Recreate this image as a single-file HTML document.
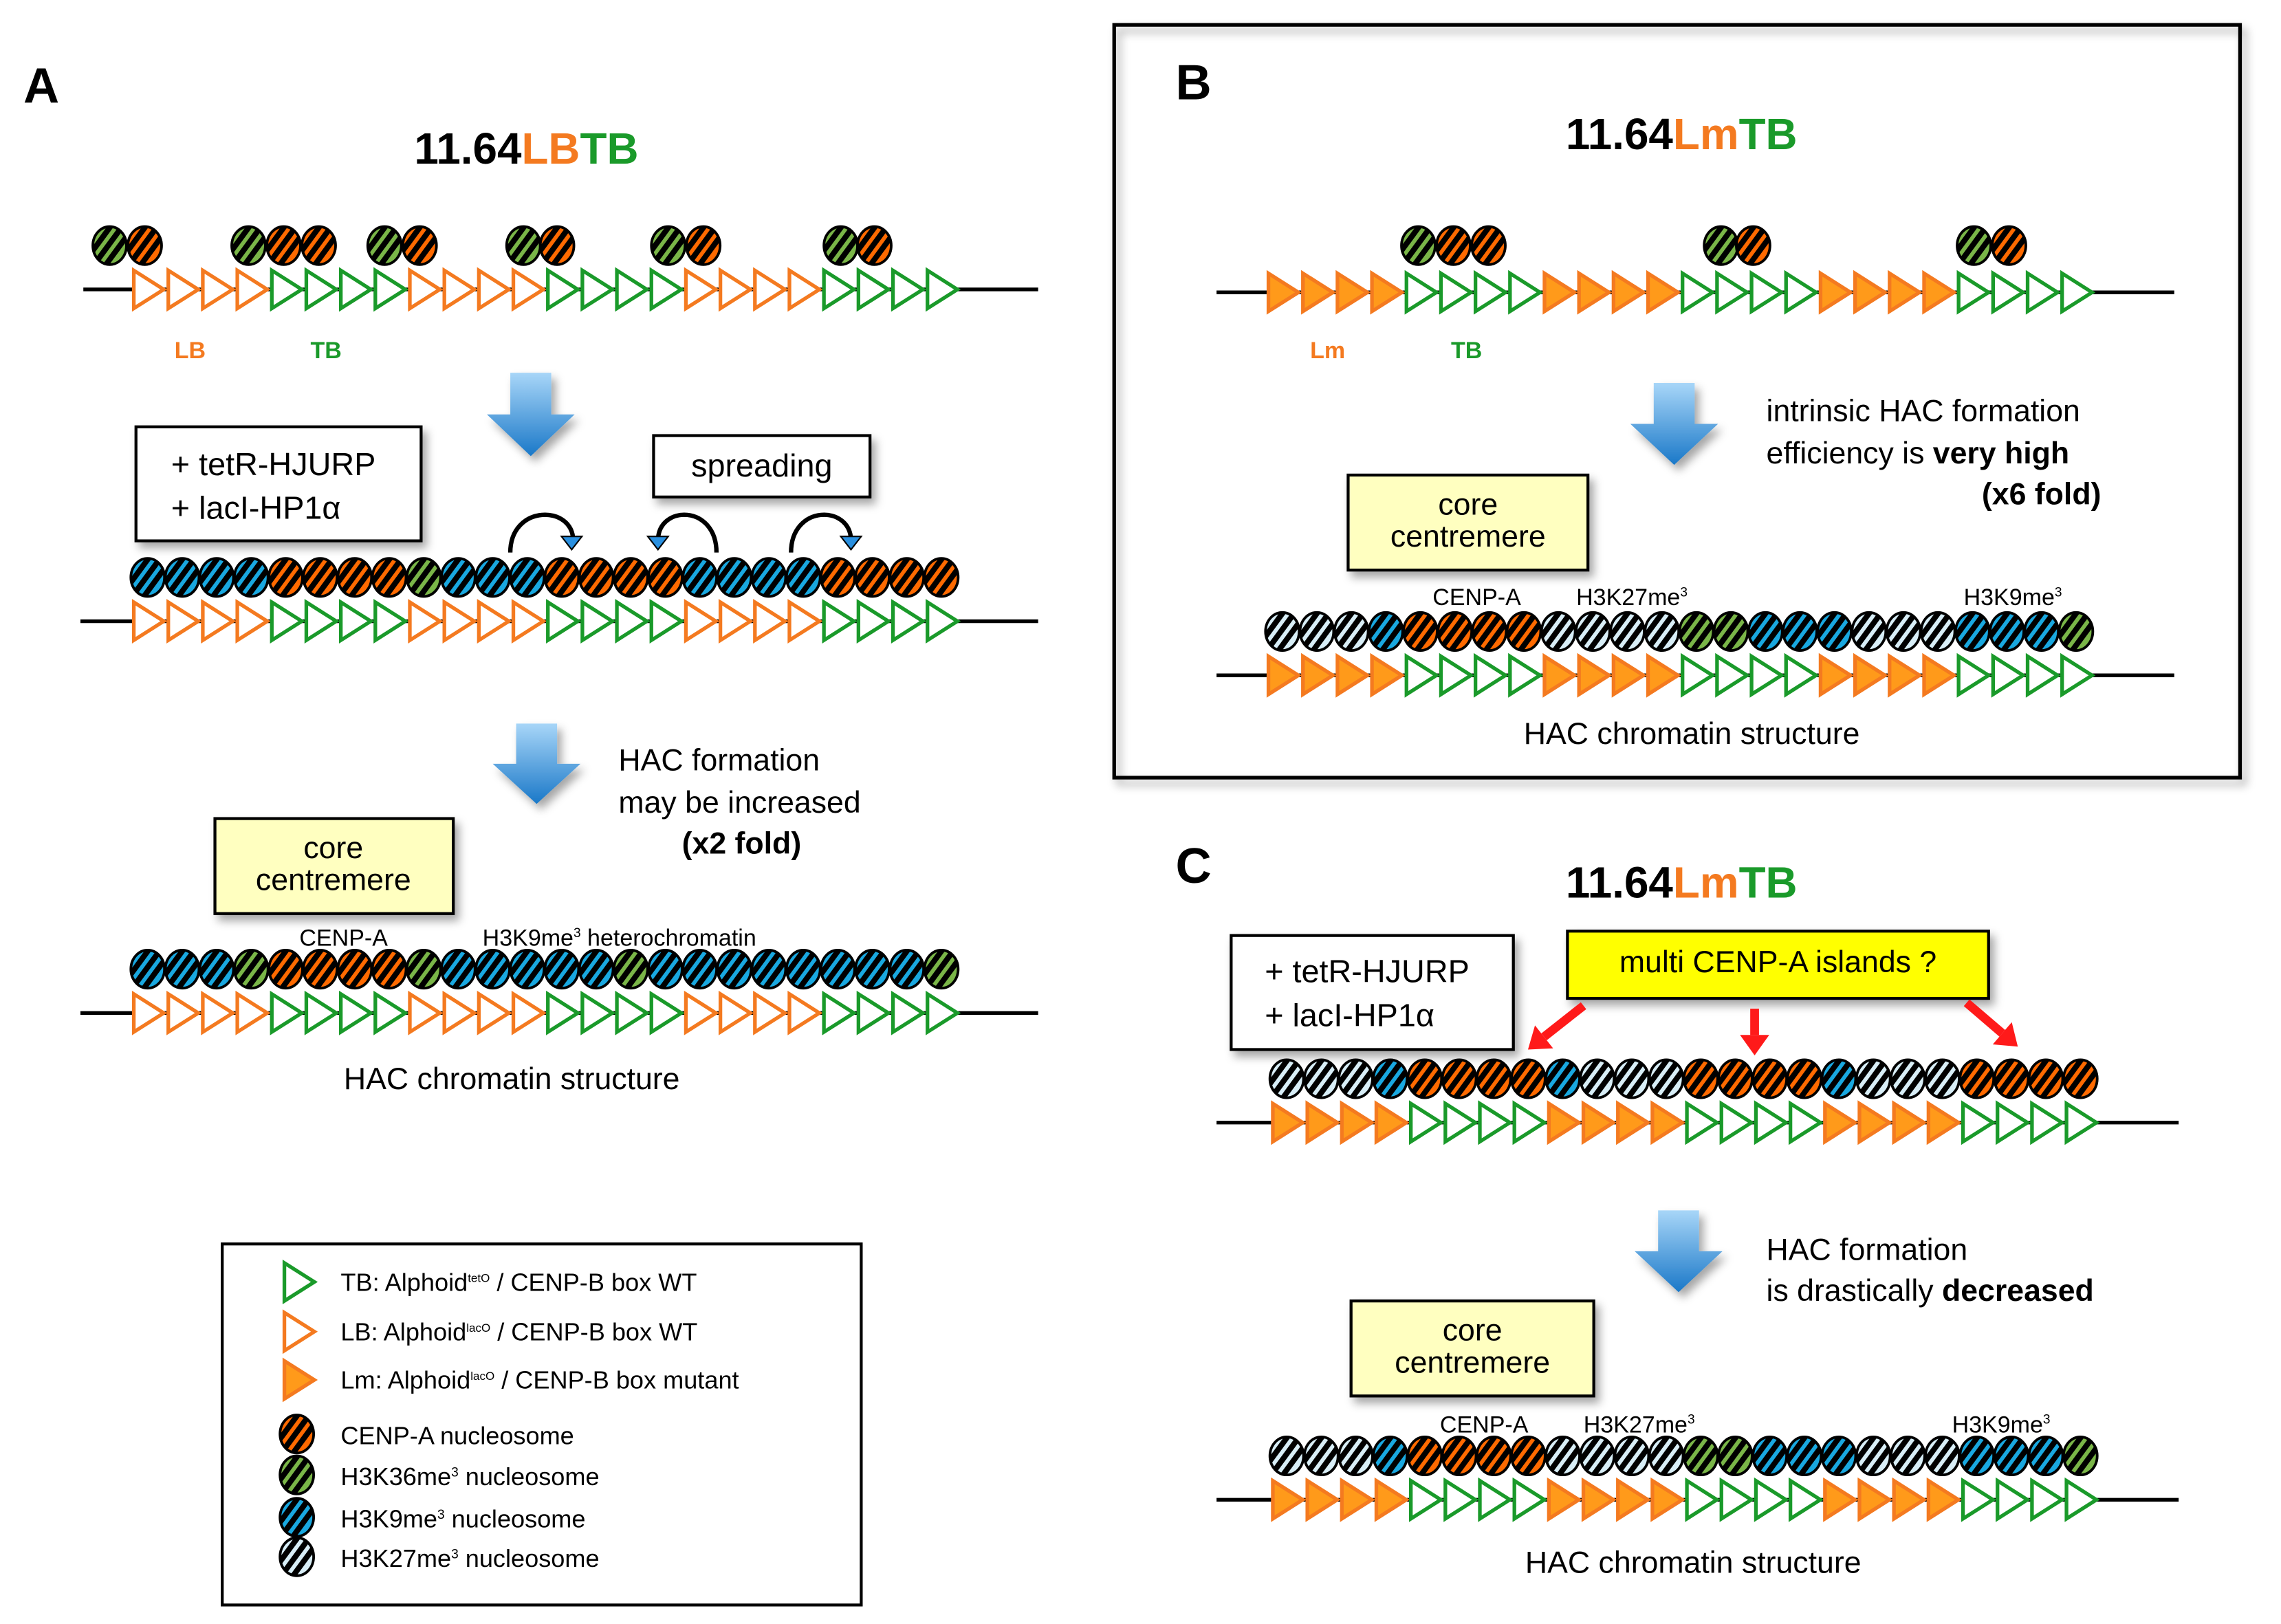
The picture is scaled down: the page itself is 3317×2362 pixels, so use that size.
<!DOCTYPE html>
<html><head><meta charset="utf-8"><style>
html,body{margin:0;padding:0;background:#fff}
svg{display:block}
text{font-family:"Liberation Sans",sans-serif}
</style></head><body>
<svg id="s" width="3317" height="2362" viewBox="0 0 1560 1111" preserveAspectRatio="none" xmlns="http://www.w3.org/2000/svg">
<defs>
<linearGradient id="ag" x1="0" y1="0" x2="0" y2="1"><stop offset="0" stop-color="#a8d6f8"/><stop offset="1" stop-color="#1a78c8"/></linearGradient>
<clipPath id="ec"><ellipse cx="0" cy="0" rx="11.5" ry="13"/></clipPath>
<filter id="sh" x="-10%" y="-10%" width="130%" height="140%"><feDropShadow dx="3" dy="4" stdDeviation="3" flood-color="#000" flood-opacity="0.35"/></filter>
</defs>

<!-- Panel A -->
<text x="16" y="70" font-size="34" font-weight="bold">A</text>
<text x="360" y="112" font-size="30" font-weight="bold" text-anchor="middle">11.64<tspan fill="#f47a20">LB</tspan><tspan fill="#1a9a2a">TB</tspan></text>
<text x="130" y="245" font-size="16" font-weight="bold" fill="#f47a20" text-anchor="middle">LB</text>
<text x="223" y="245" font-size="16" font-weight="bold" fill="#1a9a2a" text-anchor="middle">TB</text>
<rect x="93" y="292" width="195" height="78" fill="#fff" stroke="#000" stroke-width="2" filter="url(#sh)"/>
<text x="117" y="325" font-size="22">+ tetR-HJURP</text>
<text x="117" y="355" font-size="22">+ lacI-HP1α</text>
<rect x="447" y="298" width="148" height="42" fill="#fff" stroke="#000" stroke-width="2" filter="url(#sh)"/>
<text x="521" y="326" font-size="22" text-anchor="middle">spreading</text>
<text x="423" y="527" font-size="21">HAC formation</text>
<text x="423" y="556" font-size="21">may be increased</text>
<text x="548" y="584" font-size="21" font-weight="bold" text-anchor="end">(x2 fold)</text>
<rect x="147" y="560" width="163" height="65" fill="#ffffc0" stroke="#000" stroke-width="2" filter="url(#sh)"/>
<text x="228" y="587" font-size="21" text-anchor="middle">core</text>
<text x="228" y="609" font-size="21" text-anchor="middle">centremere</text>
<text x="235" y="647" font-size="16" text-anchor="middle">CENP-A</text>
<text x="330" y="647" font-size="16">H3K9me<tspan font-size="9" dy="-6">3</tspan><tspan dy="6"> heterochromatin</tspan></text>
<text x="350" y="745" font-size="21" text-anchor="middle">HAC chromatin structure</text>

<!-- Legend -->
<rect x="152" y="851" width="437" height="247" fill="none" stroke="#000" stroke-width="2"/>
<text x="233" y="883" font-size="17">TB: Alphoid<tspan font-size="8" dy="-6">tetO</tspan><tspan dy="6"> / CENP-B box WT</tspan></text>
<text x="233" y="917" font-size="17">LB: Alphoid<tspan font-size="8" dy="-6">lacO</tspan><tspan dy="6"> / CENP-B box WT</tspan></text>
<text x="233" y="950" font-size="17">Lm: Alphoid<tspan font-size="8" dy="-6">lacO</tspan><tspan dy="6"> / CENP-B box mutant</tspan></text>
<text x="233" y="988" font-size="17">CENP-A nucleosome</text>
<text x="233" y="1016" font-size="17">H3K36me<tspan font-size="9" dy="-6">3</tspan><tspan dy="6"> nucleosome</tspan></text>
<text x="233" y="1045" font-size="17">H3K9me<tspan font-size="9" dy="-6">3</tspan><tspan dy="6"> nucleosome</tspan></text>
<text x="233" y="1072" font-size="17">H3K27me<tspan font-size="9" dy="-6">3</tspan><tspan dy="6"> nucleosome</tspan></text>

<!-- Panel B -->
<rect x="762" y="17" width="770" height="515" fill="none" stroke="#000" stroke-width="2.5" filter="url(#sh)"/>
<text x="804" y="68" font-size="34" font-weight="bold">B</text>
<text x="1150" y="102" font-size="30" font-weight="bold" text-anchor="middle">11.64<tspan fill="#f47a20">Lm</tspan><tspan fill="#1a9a2a">TB</tspan></text>
<text x="908" y="245" font-size="16" font-weight="bold" fill="#f47a20" text-anchor="middle">Lm</text>
<text x="1003" y="245" font-size="16" font-weight="bold" fill="#1a9a2a" text-anchor="middle">TB</text>
<text x="1208" y="288" font-size="21">intrinsic HAC formation</text>
<text x="1208" y="317" font-size="21">efficiency is <tspan font-weight="bold">very high</tspan></text>
<text x="1437" y="345" font-size="21" font-weight="bold" text-anchor="end">(x6 fold)</text>
<rect x="922" y="325" width="164" height="65" fill="#ffffc0" stroke="#000" stroke-width="2" filter="url(#sh)"/>
<text x="1004" y="352" font-size="21" text-anchor="middle">core</text>
<text x="1004" y="374" font-size="21" text-anchor="middle">centremere</text>
<text x="1010" y="414" font-size="16" text-anchor="middle">CENP-A</text>
<text x="1078" y="414" font-size="16">H3K27me<tspan font-size="9" dy="-6">3</tspan></text>
<text x="1343" y="414" font-size="16">H3K9me<tspan font-size="9" dy="-6">3</tspan></text>
<text x="1157" y="509" font-size="21" text-anchor="middle">HAC chromatin structure</text>

<!-- Panel C -->
<text x="804" y="604" font-size="34" font-weight="bold">C</text>
<text x="1150" y="614" font-size="30" font-weight="bold" text-anchor="middle">11.64<tspan fill="#f47a20">Lm</tspan><tspan fill="#1a9a2a">TB</tspan></text>
<rect x="842" y="640" width="193" height="78" fill="#fff" stroke="#000" stroke-width="2" filter="url(#sh)"/>
<text x="865" y="672" font-size="22">+ tetR-HJURP</text>
<text x="865" y="702" font-size="22">+ lacI-HP1α</text>
<rect x="1072" y="637" width="288" height="46" fill="#ffff00" stroke="#000" stroke-width="2" filter="url(#sh)"/>
<text x="1216" y="665" font-size="21" text-anchor="middle">multi CENP-A islands ?</text>
<text x="1208" y="862" font-size="21">HAC formation</text>
<text x="1208" y="890" font-size="21">is drastically <tspan font-weight="bold">decreased</tspan></text>
<rect x="924" y="890" width="166" height="65" fill="#ffffc0" stroke="#000" stroke-width="2" filter="url(#sh)"/>
<text x="1007" y="917" font-size="21" text-anchor="middle">core</text>
<text x="1007" y="939" font-size="21" text-anchor="middle">centremere</text>
<text x="1015" y="980" font-size="16" text-anchor="middle">CENP-A</text>
<text x="1083" y="980" font-size="16">H3K27me<tspan font-size="9" dy="-6">3</tspan></text>
<text x="1335" y="980" font-size="16">H3K9me<tspan font-size="9" dy="-6">3</tspan></text>
<text x="1158" y="1076" font-size="21" text-anchor="middle">HAC chromatin structure</text>
<g id="content"></g>
</svg>
<script>
var NS="http://www.w3.org/2000/svg",g=document.getElementById("content");
function el(t,a){var e=document.createElementNS(NS,t);for(var k in a)e.setAttribute(k,a[k]);g.appendChild(e);return e;}
var col={O:"#ff6a00",G:"#7ab648",B:"#19a8e0",W:"#d8eef7"};
function nuc(x,y,c){
  var gg=document.createElementNS(NS,"g");gg.setAttribute("transform","translate("+x+","+y+")");
  var e=document.createElementNS(NS,"ellipse");e.setAttribute("rx",11.5);e.setAttribute("ry",13);e.setAttribute("fill",col[c]);gg.appendChild(e);
  var s=document.createElementNS(NS,"g");s.setAttribute("clip-path","url(#ec)");
  [-8,0,8].forEach(function(o){var l=document.createElementNS(NS,"line");l.setAttribute("x1",-12+o);l.setAttribute("y1",15);l.setAttribute("x2",10+o);l.setAttribute("y2",-15);l.setAttribute("stroke","#000");l.setAttribute("stroke-width",3.8);s.appendChild(l);});
  gg.appendChild(s);
  var e2=document.createElementNS(NS,"ellipse");e2.setAttribute("rx",11.5);e2.setAttribute("ry",13);e2.setAttribute("fill","none");e2.setAttribute("stroke","#000");e2.setAttribute("stroke-width",1.8);gg.appendChild(e2);
  g.appendChild(gg);
}
function tri(x,y,c,filled){
  el("polygon",{points:(x+1.5)+","+(y-13)+" "+(x+22)+","+y+" "+(x+1.5)+","+(y+13),fill:filled?"#ff9a1a":"#fff",stroke:c,"stroke-width":2.5,"stroke-linejoin":"miter"});
}
var O="#f47a20",Gr="#1a9a2a";
function row(x0,x1,start,y,pat,mut){
  el("line",{x1:x0,y1:y,x2:x1,y2:y,stroke:"#000","stroke-width":2.5});
  for(var i=0;i<24;i++){var grp=Math.floor(i/4)%2;tri(start+i*23.6,y,grp?Gr:O,(!grp)&&mut);}
  if(pat){for(var i=0;i<pat.length;i++)if(pat[i]!=" ")nuc(start+11+i*23.6,y-30,pat[i]);}
}
function arrow(cx,y0,y1){
  var h=y1-y0,m=y0+h*0.5;
  el("polygon",{points:(cx-14)+","+y0+" "+(cx+14)+","+y0+" "+(cx+14)+","+m+" "+(cx+30)+","+m+" "+cx+","+y1+" "+(cx-30)+","+m+" "+(cx-14)+","+m,fill:"url(#ag)",filter:"url(#sh)"});
}
row(57,710,90,198,null,false);
[[75,"G"],[99,"O"],[170,"G"],[194,"O"],[218,"O"],[263,"G"],[287,"O"],[358,"G"],[381,"O"],[457,"G"],[481,"O"],[575,"G"],[598,"O"]].forEach(function(p){nuc(p[0],168,p[1]);});
arrow(363,255,312);
row(55,710,90,425,"BBBBOOOOGBBBOOOOBBBBOOOO",false);
el("path",{d:"M349,378 C349,345 392,345 392,370",fill:"none",stroke:"#000","stroke-width":3});
el("polygon",{points:"384,367 398,367 391,376",fill:"#2a90e0",stroke:"#000","stroke-width":1});
el("path",{d:"M490,378 C490,345 450,345 450,370",fill:"none",stroke:"#000","stroke-width":3});
el("polygon",{points:"443,367 457,367 450,376",fill:"#2a90e0",stroke:"#000","stroke-width":1});
el("path",{d:"M541,378 C541,345 582,345 582,370",fill:"none",stroke:"#000","stroke-width":3});
el("polygon",{points:"575,367 589,367 582,376",fill:"#2a90e0",stroke:"#000","stroke-width":1});
arrow(367,495,550);
row(55,710,90,693,"BBBGOOOOGBBBBBGBBBBBBBBG",false);
tri(193,877,Gr,false);tri(193,911,O,false);tri(193,944,O,true);
nuc(203,981,"O");nuc(203,1009,"G");nuc(203,1038,"B");nuc(203,1065,"W");
row(832,1487,866,200,null,true);
[[970,"G"],[994,"O"],[1018,"O"],[1177,"G"],[1199,"O"],[1350,"G"],[1374,"O"]].forEach(function(p){nuc(p[0],168,p[1]);});
arrow(1145,262,318);
row(832,1487,866,462,"WWWBOOOOWWWWGGBBBWWWBBBG",true);
row(832,1490,869,768,"WWWBOOOOBWWWOOOOBWWWOOOO",true);
function redArrow(x0,y0,x1,y1){
  var dx=x1-x0,dy=y1-y0,L=Math.sqrt(dx*dx+dy*dy),ux=dx/L,uy=dy/L,px=-uy,py=ux;
  var hx=x1-ux*14,hy=y1-uy*14;
  el("line",{x1:x0,y1:y0,x2:hx,y2:hy,stroke:"#ff1a1a","stroke-width":6});
  el("polygon",{points:x1+","+y1+" "+(hx+px*10)+","+(hy+py*10)+" "+(hx-px*10)+","+(hy-py*10),fill:"#ff1a1a"});
}
redArrow(1083,688,1045,718);redArrow(1200,690,1200,722);redArrow(1345,686,1380,716);
arrow(1148,828,884);
row(832,1490,869,1026,"WWWBOOOOWWWWGGBBBWWWBBBG",true);
</script>
</body></html>
